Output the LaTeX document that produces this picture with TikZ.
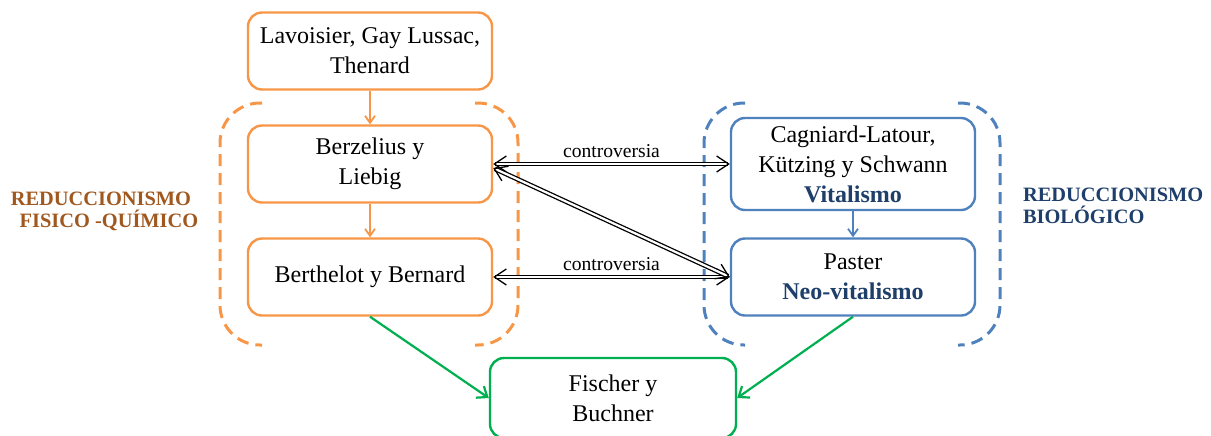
\documentclass[tikz,border=0pt]{standalone}
\usepackage{fontspec}
\setmainfont{Liberation Serif}
\usetikzlibrary{arrows.meta}
\definecolor{boxorange}{HTML}{F79646}
\definecolor{boxblue}{HTML}{4F81BD}
\definecolor{boxgreen}{HTML}{00B050}
\definecolor{labelbrown}{HTML}{A0581F}
\definecolor{labelblue}{HTML}{1F3F6B}
\begin{document}
\begin{tikzpicture}[x=0.5pt,y=-0.5pt,
  card/.style={draw, line width=1.2pt, rounded corners=7pt, fill=white,
    minimum width=122pt, align=center, font=\fontsize{12}{15}\selectfont, inner sep=2pt},
  orangecard/.style={card, draw=boxorange, minimum height=38.5pt},
  bluecard/.style={card, draw=boxblue},
  greencard/.style={card, draw=boxgreen, minimum width=123pt, minimum height=40pt},
  bracket/.style={line width=1.5pt, dash pattern=on 6pt off 3.5pt, rounded corners=20pt},
  flow/.style={line width=0.9pt, -{Straight Barb[length=3.5pt,width=5pt]}},
  greenflow/.style={line width=1.1pt, -{Straight Barb[length=4.5pt,width=7pt]}},
  twoway/.style={double=white, double distance=1.1pt, line width=0.65pt,
    {Straight Barb[length=6pt,width=8pt]}-{Straight Barb[length=6pt,width=8pt]}},
  grouplabel/.style={font=\bfseries\fontsize{10.2}{11}\selectfont},
  tag/.style={font=\fontsize{9.8}{10}\selectfont, inner sep=1pt}]
\useasboundingbox (0,0) rectangle (1211,435);

% dashed groupings
\draw[bracket, boxorange] (262,103) -- (220,103) -- (220,345) -- (262,345);
\draw[bracket, boxorange] (475,103) -- (518,103) -- (518,345) -- (475,345);
\draw[bracket, boxblue] (745,103) -- (704,103) -- (704,345) -- (745,345);
\draw[bracket, boxblue] (958,103) -- (1000,103) -- (1000,345) -- (958,345);

% boxes
\node[orangecard] (lav) at (370,51) {Lavoisier, Gay Lussac,\\Thenard};
\node[orangecard] (ber) at (370,164) {Berzelius y\\Liebig};
\node[orangecard] (bth) at (370,277) {Berthelot y Bernard};
\node[bluecard, minimum height=46pt] (cag) at (853,164)
  {Cagniard-Latour,\\Kützing y Schwann\\\textcolor{labelblue}{\bfseries Vitalismo}};
\node[bluecard, minimum height=38.5pt] (pas) at (853,277)
  {Paster\\\textcolor{labelblue}{\bfseries Neo-vitalismo}};
\node[greencard] (fis) at (613,398) {Fischer y\\Buchner};

% group labels
\node[grouplabel, labelbrown, align=center] (fq) at (101,211) {REDUCCIONISMO\\\hspace*{8pt}FISICO -QUÍMICO};
\node[grouplabel, labelblue, align=left, anchor=west] (bio) at (1016,206) {REDUCCIONISMO\\BIOLÓGICO};

% arrows
\draw[flow, boxorange] (lav) -- (ber);
\draw[flow, boxorange] (ber) -- (bth);
\draw[flow, boxblue] (cag) -- (pas);
\draw[greenflow, boxgreen] (bth.south) -- (fis.west);
\draw[greenflow, boxgreen] (pas.south) -- (fis.east);

\draw[twoway] (ber.east) -- node[tag, above=2pt] {controversia} (cag.west);
\draw[twoway] (bth.east) -- node[tag, above=2pt] {controversia} (pas.west);
\draw[twoway] ([yshift=-2pt]ber.east) -- (pas.west);
\end{tikzpicture}
\end{document}
